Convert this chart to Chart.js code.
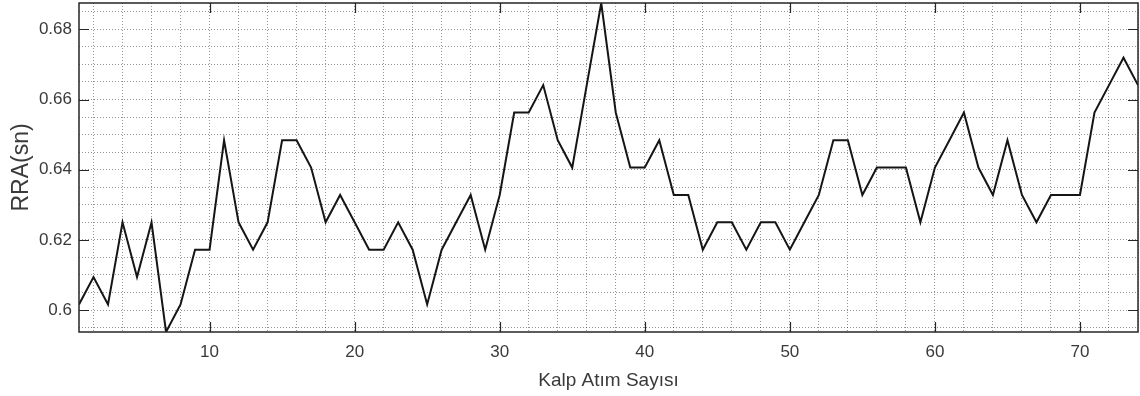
<!DOCTYPE html>
<html>
<head>
<meta charset="utf-8">
<script src="https://cdn.jsdelivr.net/npm/chart.js@4"></script>
<style>
  html, body { margin: 0; padding: 0; background: #fff; }
  #wrap { width: 1140px; height: 396px; }
</style>
</head>
<body>
<div id="wrap"><canvas id="myChart"></canvas></div>
<script>
// RR intervals (s), one per heart beat
const rra = [
  0.6016, 0.6094, 0.6016, 0.6250, 0.6094, 0.6250, 0.59375, 0.6016, 0.6172, 0.6172,
  0.6484, 0.6250, 0.6172, 0.6250, 0.6484, 0.6484, 0.6406, 0.6250, 0.6328, 0.6250,
  0.6172, 0.6172, 0.6250, 0.6172, 0.6016, 0.6172, 0.6250, 0.6328, 0.6172, 0.6328,
  0.6563, 0.6563, 0.6641, 0.6484, 0.6406, 0.6641, 0.6875, 0.6563, 0.6406, 0.6406,
  0.6484, 0.6328, 0.6328, 0.6172, 0.6250, 0.6250, 0.6172, 0.6250, 0.6250, 0.6172,
  0.6250, 0.6328, 0.6484, 0.6484, 0.6328, 0.6406, 0.6406, 0.6406, 0.6250, 0.6406,
  0.6484, 0.6563, 0.6406, 0.6328, 0.6484, 0.6328, 0.6250, 0.6328, 0.6328, 0.6328,
  0.6563, 0.6641, 0.6719, 0.6641
]
const beats = rra.map((v, i) => i + 1)

const xTicks = [10, 20, 30, 40, 50, 60, 70]
const yTicks = [0.6, 0.62, 0.64, 0.66, 0.68]

const xRange = [1, 74]
const yRange = [0.59375, 0.6875]

const tickFont = { family: 'Arial, "Liberation Sans", Helvetica, sans-serif', size: 17 }
const titleFont = { family: 'Arial, "Liberation Sans", Helvetica, sans-serif', size: 19 }
const textColor = '#3a3a3a'
const gridColor = 'rgba(0,0,0,0.42)'

// MATLAB-ish box with inward major ticks
const boxPlugin = {
  id: 'box',
  afterDraw(chart) {
    const ctx = chart.ctx
    const a = chart.chartArea
    const xs = chart.scales.x
    const ys = chart.scales.y
    const len = 10
    ctx.save()
    ctx.strokeStyle = '#262626'
    ctx.lineWidth = 1.2
    ctx.beginPath()
    xTicks.forEach(t => {
      let px = Math.round(xs.getPixelForValue(t)) + 0.5
      ctx.moveTo(px, a.bottom); ctx.lineTo(px, a.bottom - len)
      ctx.moveTo(px, a.top); ctx.lineTo(px, a.top + len)
    })
    yTicks.forEach(t => {
      let py = Math.round(ys.getPixelForValue(t)) + 0.5
      ctx.moveTo(a.left, py); ctx.lineTo(a.left + len, py)
      ctx.moveTo(a.right, py); ctx.lineTo(a.right - len, py)
    })
    ctx.stroke()
    ctx.lineWidth = 1.5
    ctx.strokeRect(a.left, a.top, a.right - a.left, a.bottom - a.top)
    ctx.restore()
  }
}

let ctx = document.querySelector('#myChart').getContext('2d')
let myLineChart = new Chart(ctx, {
  type: 'line',
  data: {
    datasets: [{
      data: rra.map((v, i) => ({ x: beats[i], y: v })),
      borderColor: '#151515',
      borderWidth: 2,
      pointRadius: 0,
      tension: 0,
      fill: false
    }]
  },
  options: {
    responsive: true,
    maintainAspectRatio: false,
    animation: false,
    layout: { padding: { top: 3, right: 2, left: 0, bottom: 0 } },
    plugins: {
      legend: { display: false },
      tooltip: { enabled: false }
    },
    scales: {
      x: {
        type: 'linear',
        min: xRange[0],
        max: xRange[1],
        afterBuildTicks: scale => {
          let ticks = []
          for (let v = 2; v <= xRange[1]; v += 2) ticks.push({ value: v })
          scale.ticks = ticks
        },
        afterFit: scale => {
          scale.height = 64
          scale.paddingLeft = 0
          scale.paddingRight = 0
        },
        grid: {
          color: gridColor,
          lineWidth: 1,
          drawTicks: false
        },
        border: { display: false, dash: [1, 2] },
        ticks: {
          autoSkip: false,
          maxRotation: 0,
          padding: 10,
          color: textColor,
          font: tickFont,
          callback: v => xTicks.includes(v) ? String(v) : ''
        },
        title: {
          display: true,
          text: 'Kalp Atım Sayısı',
          color: textColor,
          font: titleFont,
          padding: { top: 0, bottom: 4 }
        }
      },
      y: {
        min: yRange[0],
        max: yRange[1],
        afterBuildTicks: scale => {
          let ticks = []
          for (let k = 595; k <= 685; k += 5) ticks.push({ value: k / 1000 })
          scale.ticks = ticks
        },
        afterFit: scale => {
          scale.width = 79
          scale.paddingTop = 0
          scale.paddingBottom = 0
        },
        grid: {
          color: gridColor,
          lineWidth: 1,
          drawTicks: false
        },
        border: { display: false, dash: [1, 2] },
        ticks: {
          autoSkip: false,
          padding: 7,
          color: textColor,
          font: tickFont,
          callback: v => {
            let k = Math.round(v * 1000)
            return k % 20 === 0 ? String(k / 1000) : ''
          }
        },
        title: {
          display: true,
          text: 'RRA(sn)',
          color: textColor,
          font: { family: titleFont.family, size: 23 },
          padding: { top: 8, bottom: 0 }
        }
      }
    }
  },
  plugins: [boxPlugin]
})
</script>
</body>
</html>
